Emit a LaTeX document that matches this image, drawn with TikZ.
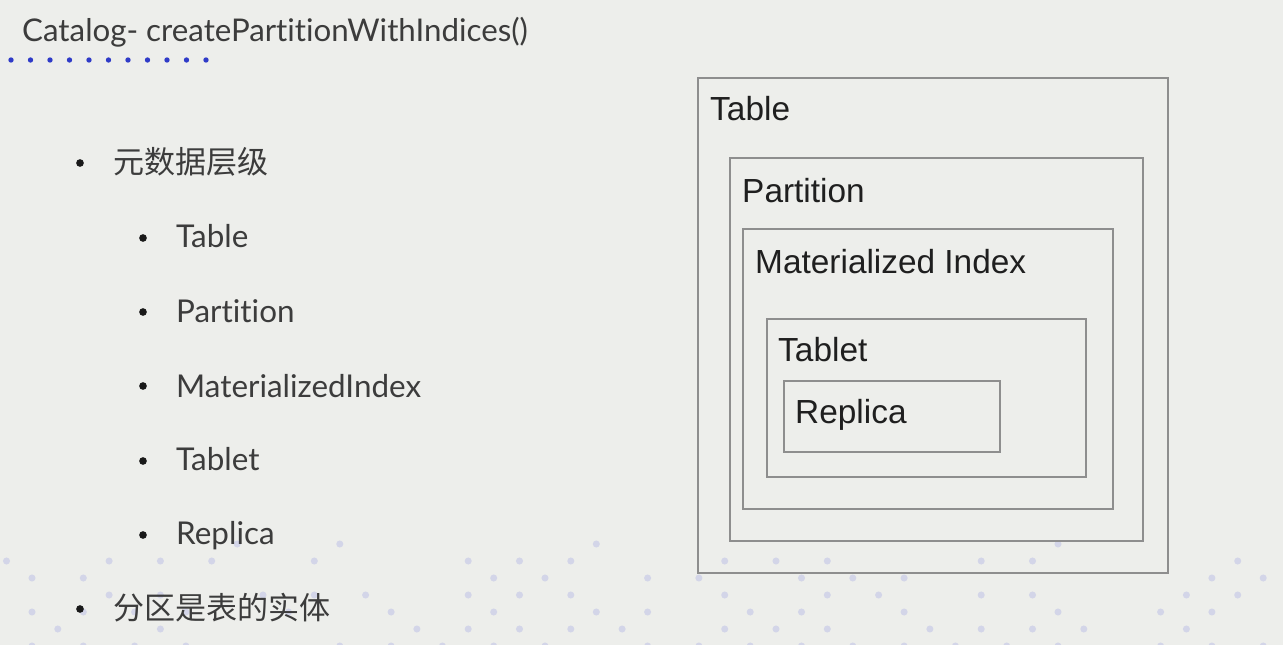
\documentclass[tikz,border=0pt]{standalone}
\usepackage{fontspec}
\setmainfont{Lato}[Ligatures={NoCommon}]
\newfontfamily\cjkfont{Noto Sans CJK SC}
\newfontfamily\boxfont{Liberation Sans}
\definecolor{bgcolor}{HTML}{EDEEEB}
\definecolor{txtcolor}{HTML}{3C3C3C}
\definecolor{framecolor}{HTML}{8E8E8E}
\definecolor{dotblue}{HTML}{2F3BC8}
\definecolor{dotfaint}{HTML}{D3D5E8}

\begin{document}
\begin{tikzpicture}[
  x=0.03cm, y=-0.03cm,
  ttl/.style={anchor=base west, inner sep=0pt, text=txtcolor, font=\fontsize{26.7}{30}\selectfont},
  item/.style={anchor=base west, inner sep=0pt, text=txtcolor, font=\fontsize{26.8}{30}\selectfont},
  cjkitem/.style={anchor=base west, inner sep=0pt, text=txtcolor, font=\cjkfont\fontsize{26.5}{30}\selectfont},
  bullet/.style={circle, fill=black!90, inner sep=0pt, minimum size=0.23cm},
  frame/.style={draw=framecolor, line width=1.4pt},
  boxlabel/.style={anchor=base west, inner sep=0pt, text=black!88, font=\boxfont\fontsize{28.5}{32}\selectfont}
]
  % Hintergrund
  \fill[bgcolor] (0,0) rectangle (1283,645);
  \useasboundingbox (0,0) rectangle (1283,645);

  % blasse Punkte unten
  \pgfmathsetseed{11}
  \foreach \r in {0,...,6}{
    \pgfmathsetmacro{\off}{mod(\r,2)==0 ? 32 : 6.5}
    \foreach \c in {0,...,24}{
      \pgfmathtruncatemacro{\on}{rnd < 0.22+0.09*\r}
      \ifnum\on=1
        \fill[dotfaint] (\off+51.3*\c, 544+17*\r) circle (3pt);
      \fi
    }
  }

  % Titel
  \node[ttl] (title) at (22,42) {Catalog- createPartitionWithIndices()};
  \foreach \i in {0,...,10}
    \fill[dotblue] (11+19.5*\i,60) circle (2.3pt);

  % Liste links
  \node[bullet] (b0) at (80,163) {};
  \node[cjkitem] (meta) at (113,173) {元数据层级};
  \node[bullet] (b1) at (143,238) {};
  \node[item] (lTable) at (176,247) {Table};
  \node[bullet] (b2) at (143,312) {};
  \node[item] (lPart) at (176,322) {Partition};
  \node[bullet] (b3) at (143,386) {};
  \node[item] (lIndex) at (176,397) {MaterializedIndex};
  \node[bullet] (b4) at (143,461) {};
  \node[item] (lTablet) at (176,470) {Tablet};
  \node[bullet] (b5) at (143,535) {};
  \node[item] (lRep) at (176,544) {Replica};
  \node[bullet] (b6) at (80,609) {};
  \node[cjkitem] (entity) at (113,619) {分区是表的实体};

  % verschachtelte Kaesten
  \draw[frame] (698,78) rectangle (1168,573);
  \node[boxlabel] (tTable) at (710,120) {Table};
  \draw[frame] (730,158) rectangle (1143,541);
  \node[boxlabel] (tPart) at (742,202) {Partition};
  \draw[frame] (743,229) rectangle (1113,509);
  \node[boxlabel] (tIndex) at (755,273) {Materialized Index};
  \draw[frame] (767,319) rectangle (1086,477);
  \node[boxlabel] (tTablet) at (778,361) {Tablet};
  \draw[frame] (784,381) rectangle (1000,452);
  \node[boxlabel] (tRep) at (795,423) {Replica};
\end{tikzpicture}
\end{document}
